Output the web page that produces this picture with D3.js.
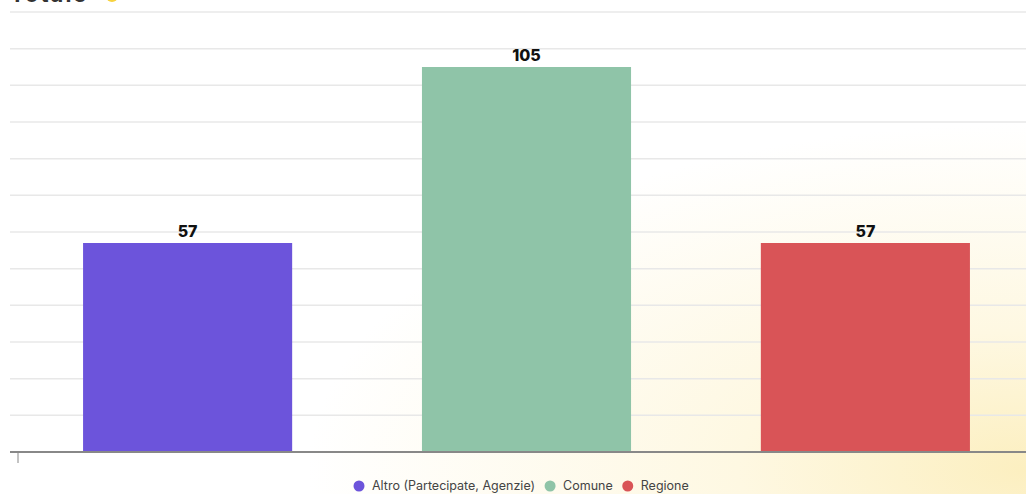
<!DOCTYPE html>
<html>
<head>
<meta charset="utf-8">
<script src="https://cdn.jsdelivr.net/npm/d3@7"></script>
<style>
  body { margin: 0; background: #fff; }
  svg { display: block; font-family: Inter, "Open Sans", sans-serif; }
</style>
</head>
<body>
<svg width="1026" height="494"></svg>
<script>
var categories = ["Altro (Partecipate, Agenzie)", "Comune", "Regione"];
var values = [57, 105, 57];
var colors = ["#6c54db", "#8fc4a8", "#d95457"];
var yTicks = [0, 10, 20, 30, 40, 50, 60, 70, 80, 90, 100, 110, 120];

var svg = d3.select("svg");
var W = 1026, H = 494;

// soft yellow background glow, bottom right
var defs = svg.append("defs");
var grad = defs.append("radialGradient").attr("id", "glow")
  .attr("cx", "100%").attr("cy", "95%").attr("r", "70%");
grad.append("stop").attr("offset", "0%").attr("stop-color", "#fcefc0");
grad.append("stop").attr("offset", "40%").attr("stop-color", "#fef8e2");
grad.append("stop").attr("offset", "100%").attr("stop-color", "#ffffff");
svg.append("rect").attr("width", W).attr("height", H).attr("fill", "url(#glow)");

// title (mostly cut off at the top, as in the original)
svg.append("text").attr("x", 10).attr("y", 2)
  .attr("font-size", 22).attr("font-weight", 700).attr("fill", "#333")
  .attr("letter-spacing", 2)
  .text("Totale");
svg.append("circle").attr("cx", 112).attr("cy", -4).attr("r", 6).attr("fill", "#f7d23e");

var x = d3.scaleBand().domain(categories).range([18, 1035])
  .paddingInner(0.383).paddingOuter(0.192);
var y = d3.scaleLinear().domain([0, 120]).range([452, 12]);

// gridlines
svg.append("g").selectAll("line").data(yTicks.slice(1)).enter().append("line")
  .attr("x1", 10).attr("x2", W)
  .attr("y1", function(d) { return y(d); })
  .attr("y2", function(d) { return y(d); })
  .attr("stroke", "#e8e8e8").attr("stroke-width", 1.5);

// bars
svg.append("g").selectAll("rect").data(values).enter().append("rect")
  .attr("x", function(d, i) { return x(categories[i]); })
  .attr("y", function(d) { return y(d); })
  .attr("width", x.bandwidth())
  .attr("height", function(d) { return y(0) - y(d); })
  .attr("fill", function(d, i) { return colors[i]; });

// value labels
svg.append("g").selectAll("text").data(values).enter().append("text")
  .attr("x", function(d, i) { return x(categories[i]) + x.bandwidth() / 2; })
  .attr("y", function(d) { return y(d) - 6; })
  .attr("text-anchor", "middle")
  .attr("font-size", 16).attr("font-weight", 800).attr("fill", "#111")
  .text(function(d) { return d; });

// baseline + first tick
svg.append("line").attr("x1", 10).attr("x2", W)
  .attr("y1", y(0)).attr("y2", y(0))
  .attr("stroke", "#888").attr("stroke-width", 2);
svg.append("line").attr("x1", 18).attr("x2", 18)
  .attr("y1", y(0)).attr("y2", y(0) + 11)
  .attr("stroke", "#888").attr("stroke-width", 1);

// legend
var legend = svg.append("g").attr("font-size", 12.5).attr("fill", "#444");
var lx = 359;
categories.forEach(function(c, i) {
  legend.append("circle").attr("cx", lx).attr("cy", 486).attr("r", 5.5).attr("fill", colors[i]);
  var t = legend.append("text").attr("x", lx + 13).attr("y", 490).text(c);
  lx += 13 + t.node().getComputedTextLength() + 15;
});
</script>
</body>
</html>
